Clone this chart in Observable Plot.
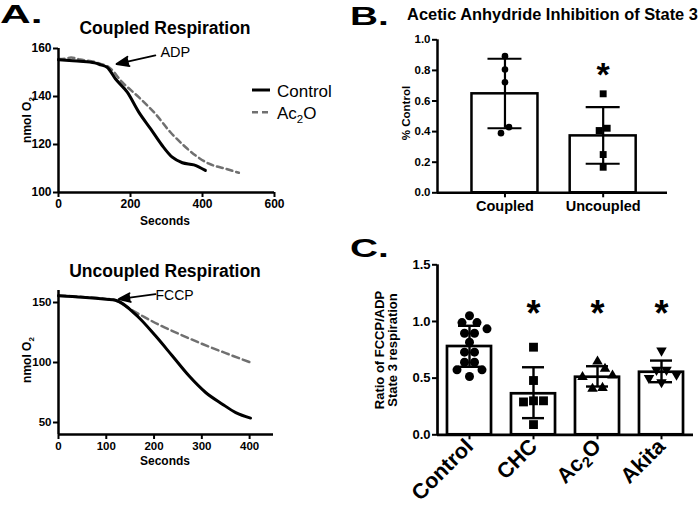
<!DOCTYPE html>
<html><head><meta charset="utf-8">
<script src="https://cdn.jsdelivr.net/npm/d3@7"></script>
<script src="https://cdn.jsdelivr.net/npm/@observablehq/plot@0.6"></script>
<style>
html,body{margin:0;padding:0;background:#fff;}
#fig{position:relative;width:700px;height:505px;overflow:hidden;background:#fff;}
#fig svg{position:absolute;left:0;top:0;}
</style></head><body><div id="fig"></div>
<script>
// ---------- DATA ----------
// Panel A (top): Coupled respiration, nmol O2 vs seconds
const coupledControlSec = [0, 30, 60, 100, 117, 135, 158, 191, 223, 256, 288, 316, 344, 376, 408];
const coupledControlO2  = [155.3, 155.0, 154.7, 154.0, 153.2, 152.2, 147.4, 141.8, 133.5, 126.5, 119.6, 114.7, 112.4, 111.5, 109.2];
const coupledAc2OSec = [0, 20, 35, 60, 100, 117, 140, 177, 223, 269, 311, 348, 381, 418, 464, 501];
const coupledAc2OO2  = [155.6, 155.8, 156.2, 155.4, 154.4, 153.6, 152.2, 146.0, 139.7, 132.8, 125.1, 119.6, 115.4, 112.0, 109.9, 108.2];
// Panel A (bottom): Uncoupled respiration
const uncoupledControlSec = [0, 50, 100, 119, 168, 203, 238, 273, 308, 343, 371, 402];
const uncoupledControlO2  = [155.6, 154.3, 152.6, 151.8, 137.5, 122.2, 105.6, 88.9, 75.0, 65.3, 58.3, 53.7];
const uncoupledAc2OSec = [0, 50, 100, 119, 150, 180, 210, 250, 300, 350, 402];
const uncoupledAc2OO2  = [155.9, 154.6, 153.2, 152.0, 144.5, 137.8, 131.5, 124.2, 115.6, 107.8, 100.0];
const eventsCoupled   = [{label: "ADP",  tailSec: 269, tailO2: 157.1, tipSec: 161, tipO2: 153.5, textSec: 283, textO2: 158.4}];
const eventsUncoupled = [{label: "FCCP", tailSec: 203, tailO2: 157.0, tipSec: 126, tipO2: 152.8, textSec: 203, textO2: 156.2}];

// Panel B: Acetic anhydride inhibition of state 3 (% control)
const bGroups = ["Coupled", "Uncoupled"];
const bMeans = [0.647, 0.372];
const bLow   = [0.422, 0.190];
const bHigh  = [0.876, 0.560];
const bCoupled   = [0.893, 0.806, 0.723, 0.429, 0.390];
const bUncoupled = [0.647, 0.422, 0.407, 0.250, 0.167];
const bSignificant = ["Uncoupled"];

// Panel C: Ratio of FCCP/ADP state 3 respiration
const cGroups = ["Control", "CHC", "Ac2O", "Akita"];
const cMeans = [0.779, 0.362, 0.508, 0.552];
const cLow   = [0.600, 0.147, 0.426, 0.464];
const cHigh  = [0.962, 0.596, 0.605, 0.655];
const cControl = [1.05, 0.99, 0.99, 0.935, 0.896, 0.896, 0.817, 0.729, 0.729, 0.64, 0.64, 0.573, 0.573, 0.514];
const cCHC     = [0.773, 0.479, 0.300, 0.290, 0.300, 0.090];
const cAc2O    = [0.646, 0.582, 0.523, 0.510, 0.414, 0.406];
const cAkita   = [0.743, 0.573, 0.573, 0.530, 0.500, 0.464];
const cSignificant = ["CHC", "Ac2O", "Akita"];

// ---------- LAYOUT ----------
const W = 700, H = 505;
const FONT = '"Liberation Sans", Arial, Helvetica, sans-serif';
const fig = document.getElementById("fig");
const PA1 = {x0: 58, x1: 274, y0: 48, y1: 192, xd: [0, 600], yd: [100, 160]};
const PA2 = {x0: 58, x1: 273, y0: 290, y1: 434, xd: [0, 450], yd: [40, 160]};
const PB  = {x0: 437, x1: 667, y0: 39.3, y1: 192.3, xd: [-0.687, 1.655], yd: [0, 1]};
const PC  = {x0: 437, x1: 693, y0: 264.3, y1: 434.3, xd: [-0.5, 3.5], yd: [0, 1.5]};

function frame(P) {
  return {width: W, height: H, marginLeft: P.x0, marginRight: W - P.x1, marginTop: P.y0, marginBottom: H - P.y1,
          x: {domain: P.xd}, y: {domain: P.yd}};
}
function style(fs) {
  return {background: "transparent", fontFamily: FONT, fontSize: fs + "px", fontWeight: "bold", color: "black", overflow: "visible"};
}
const yPxOf = P => v => P.y1 - (v - P.yd[0]) / (P.yd[1] - P.yd[0]) * (P.y1 - P.y0);
const pxPerX = P => (P.x1 - P.x0) / (P.xd[1] - P.xd[0]);

// deterministic scatter spreading (GraphPad-like)
function dodgeOffsets(values, yPx, d, rowTol) {
  const order = values.map((v, i) => i).sort((a, b) => values[b] - values[a]);
  const placed = [], out = new Array(values.length).fill(0);
  const ok = pts => pts.every(p => placed.every(q => Math.hypot(p.x - q.x, p.y - q.y) >= d - 1e-6));
  let i = 0;
  while (i < order.length) {
    const y0 = yPx(values[order[i]]);
    let j = i + 1;
    while (j < order.length && Math.abs(yPx(values[order[j]]) - y0) < rowTol) j++;
    const row = order.slice(i, j), k = row.length;
    let pts = null;
    if (k === 1) {
      for (let s = 0; !pts; s += 2.5) {
        for (const c of (s === 0 ? [0] : [s, -s])) {
          const p = [{x: c, y: y0}];
          if (ok(p)) { pts = p; break; }
        }
      }
    } else {
      for (let sp = d; !pts; sp += 2.5) {
        const cand = row.map((idx, m) => ({x: ((k - 1) / 2 - m) * sp, y: yPx(values[idx])}));
        if (ok(cand)) pts = cand;
      }
    }
    row.forEach((idx, m) => { out[idx] = pts[m].x; placed.push(pts[m]); });
    i = j;
  }
  return out;
}
function scatter(P, vals, g, d, tol) {
  const off = dodgeOffsets(vals, yPxOf(P), d, tol), k = pxPerX(P);
  return vals.map((v, i) => ({g, v, x: g + off[i] / k}));
}
const triangleDown = {
  draw(ctx, size) {
    const y = Math.sqrt(size / (3 * Math.sqrt(3)));
    ctx.moveTo(0, y * 2);
    ctx.lineTo(-Math.sqrt(3) * y, -y);
    ctx.lineTo(Math.sqrt(3) * y, -y);
    ctx.closePath();
  }
};
function subscriptAc2O(svg) {
  svg.querySelectorAll("text").forEach(t => {
    if (t.textContent === "Ac2O") {
      t.textContent = "Ac";
      const s = document.createElementNS("http://www.w3.org/2000/svg", "tspan");
      s.setAttribute("dy", "0.3em"); s.setAttribute("font-size", "0.68em"); s.textContent = "2";
      const o = document.createElementNS("http://www.w3.org/2000/svg", "tspan");
      o.setAttribute("dy", "-0.2em"); o.textContent = "O";
      t.appendChild(s); t.appendChild(o);
    }
  });
}

// ---------- PANEL A top ----------
fig.appendChild(Plot.plot({
  ...frame(PA1), style: style(12),
  marks: [
    Plot.line(coupledAc2OO2, {x: coupledAc2OSec, y: coupledAc2OO2, stroke: "#707070", strokeWidth: 2.5, strokeDasharray: "6,4", curve: "monotone-x"}),
    Plot.line(coupledControlO2, {x: coupledControlSec, y: coupledControlO2, stroke: "black", strokeWidth: 3, curve: "monotone-x"}),
    Plot.arrow(eventsCoupled, {x1: "tailSec", y1: "tailO2", x2: "tipSec", y2: "tipO2", stroke: "black", fill: "black", strokeWidth: 1.8, headLength: 11, headAngle: 42}),
    Plot.text(eventsCoupled, {x: "textSec", y: "textO2", text: "label", textAnchor: "start", fontSize: 14.5, fontWeight: "normal"}),
    Plot.ruleX([PA1.xd[0]], {stroke: "black", strokeWidth: 2.5}),
    Plot.ruleY([PA1.yd[0]], {stroke: "black", strokeWidth: 2.5}),
    Plot.axisX({ticks: [0, 200, 400, 600], tickSize: 5, tickPadding: 2, strokeWidth: 2, label: null}),
    Plot.axisY({ticks: [100, 120, 140, 160], tickSize: 5, tickPadding: 2, strokeWidth: 2, label: null})
  ]
}));

// ---------- PANEL A bottom ----------
fig.appendChild(Plot.plot({
  ...frame(PA2), style: style(11.5),
  marks: [
    Plot.line(uncoupledAc2OO2, {x: uncoupledAc2OSec, y: uncoupledAc2OO2, stroke: "#707070", strokeWidth: 2.5, strokeDasharray: "7,4", curve: "monotone-x"}),
    Plot.line(uncoupledControlO2, {x: uncoupledControlSec, y: uncoupledControlO2, stroke: "black", strokeWidth: 3, curve: "monotone-x"}),
    Plot.arrow(eventsUncoupled, {x1: "tailSec", y1: "tailO2", x2: "tipSec", y2: "tipO2", stroke: "black", fill: "black", strokeWidth: 1.8, headLength: 11, headAngle: 42}),
    Plot.text(eventsUncoupled, {x: "textSec", y: "textO2", text: "label", textAnchor: "start", fontSize: 14, fontWeight: "normal"}),
    Plot.ruleX([PA2.xd[0]], {stroke: "black", strokeWidth: 2.5}),
    Plot.ruleY([PA2.yd[0]], {stroke: "black", strokeWidth: 2.5}),
    Plot.axisX({ticks: [0, 100, 200, 300, 400], tickSize: 5, tickPadding: 2, strokeWidth: 2, label: null}),
    Plot.axisY({ticks: [50, 100, 150], tickSize: 5, tickPadding: 2, strokeWidth: 2, label: null})
  ]
}));

// ---------- PANEL B ----------
{
  const bars = bGroups.map((name, g) => ({g, name, mean: bMeans[g], lo: bLow[g], hi: bHigh[g]}));
  const hw = 0.336, cap = 0.173;
  const pts0 = scatter(PB, bCoupled, 0, 8, 7);
  const pts1 = scatter(PB, bUncoupled, 1, 8, 7);
  fig.appendChild(Plot.plot({
    ...frame(PB), style: style(11.5),
    marks: [
      Plot.rectY(bars, {x1: d => d.g - hw, x2: d => d.g + hw, y: "mean", fill: "white", stroke: "black", strokeWidth: 2.5}),
      Plot.ruleX(bars, {x: "g", y1: "lo", y2: "hi", stroke: "black", strokeWidth: 2.2}),
      Plot.ruleY(bars, {y: "hi", x1: d => d.g - cap, x2: d => d.g + cap, stroke: "black", strokeWidth: 2.2}),
      Plot.ruleY(bars, {y: "lo", x1: d => d.g - cap, x2: d => d.g + cap, stroke: "black", strokeWidth: 2.2}),
      Plot.dot(pts0, {x: "x", y: "v", r: 3.3, symbol: "circle", fill: "black", stroke: "none"}),
      Plot.dot(pts1, {x: "x", y: "v", r: 3.9, symbol: "square", fill: "black", stroke: "none"}),
      Plot.text(bSignificant, {x: d => bGroups.indexOf(d), y: () => 0.80, text: () => "*", fontSize: 34, dy: 5}),
      Plot.ruleX([PB.xd[0]], {stroke: "black", strokeWidth: 2.5}),
      Plot.ruleY([PB.yd[0]], {stroke: "black", strokeWidth: 2.5}),
      Plot.axisX({ticks: [0, 1], tickFormat: i => bGroups[i], tickSize: 5, tickPadding: 3, strokeWidth: 2, fontSize: 14.5, label: null}),
      Plot.axisY({ticks: [0, 0.2, 0.4, 0.6, 0.8, 1.0], tickFormat: d3.format(".1f"), tickSize: 5, tickPadding: 2, strokeWidth: 2, label: null})
    ]
  }));
}

// ---------- PANEL C ----------
{
  const bars = cGroups.map((name, g) => ({g, name, mean: cMeans[g], lo: cLow[g], hi: cHigh[g]}));
  const hw = 0.344, cap = 0.172;
  const sets = [cControl, cCHC, cAc2O, cAkita];
  const symbols = ["circle", "square", "triangle", triangleDown];
  const radii = [4.5, 5.0, 3.9, 3.9];
  const dotMarks = sets.map((vals, g) => Plot.dot(scatter(PC, vals, g, 10, 3),
    {x: "x", y: "v", r: radii[g], symbol: symbols[g], fill: "black", stroke: "none"}));
  const svg = Plot.plot({
    ...frame(PC), style: style(13),
    marks: [
      Plot.rectY(bars, {x1: d => d.g - hw, x2: d => d.g + hw, y: "mean", fill: "white", stroke: "black", strokeWidth: 2.7}),
      Plot.ruleX(bars, {x: "g", y1: "lo", y2: "hi", stroke: "black", strokeWidth: 2.4}),
      Plot.ruleY(bars, {y: "hi", x1: d => d.g - cap, x2: d => d.g + cap, stroke: "black", strokeWidth: 2.4}),
      Plot.ruleY(bars, {y: "lo", x1: d => d.g - cap, x2: d => d.g + cap, stroke: "black", strokeWidth: 2.4}),
      ...dotMarks,
      Plot.text(cSignificant, {x: d => cGroups.indexOf(d), y: () => 1.11, text: () => "*", fontSize: 36, dy: 5}),
      Plot.ruleX([PC.xd[0]], {stroke: "black", strokeWidth: 2.7}),
      Plot.ruleY([PC.yd[0]], {stroke: "black", strokeWidth: 2.7}),
      Plot.axisX({ticks: [0, 1, 2, 3], tickFormat: i => cGroups[i], tickSize: 5, tickPadding: 3, strokeWidth: 2, tickRotate: -45, fontSize: 21.5, label: null}),
      Plot.axisY({ticks: [0, 0.5, 1.0, 1.5], tickFormat: d3.format(".1f"), tickSize: 5, tickPadding: 2, strokeWidth: 2, label: null})
    ]
  });
  subscriptAc2O(svg);
  fig.appendChild(svg);
}

// ---------- TEXT OVERLAY (titles, panel letters, axis titles, legend) ----------
fig.insertAdjacentHTML("beforeend", `
<svg width="700" height="505" style="overflow:visible" font-family='${FONT}' fill="black">
  <g font-weight="bold" font-size="25">
    <text transform="translate(0,23) scale(1.7,1)">A.</text>
    <text transform="translate(350,25) scale(1.55,1)">B.</text>
    <text transform="translate(350,257) scale(1.55,1)">C.</text>
  </g>
  <g font-weight="bold" text-anchor="middle">
    <text x="165" y="34.3" font-size="17.5">Coupled Respiration</text>
    <text x="165" y="276.7" font-size="17.5">Uncoupled Respiration</text>
    <text x="552.5" y="20" font-size="16.4">Acetic Anhydride Inhibition of State 3</text>
    <text x="165" y="224.5" font-size="12">Seconds</text>
    <text x="165" y="465" font-size="12">Seconds</text>
    <text transform="translate(30.5,120) rotate(-90)" font-size="12">nmol O<tspan dy="3" font-size="8">2</tspan></text>
    <text transform="translate(30.5,360) rotate(-90)" font-size="12">nmol O<tspan dy="3" font-size="8">2</tspan></text>
    <text transform="translate(410,113) rotate(-90)" font-size="11.5">% Control</text>
    <text transform="translate(384,350) rotate(-90)" font-size="13">Ratio of FCCP/ADP</text>
    <text transform="translate(397,350) rotate(-90)" font-size="13">State 3 respiration</text>
  </g>
  <g font-size="17">
    <line x1="252" x2="270" y1="90" y2="90" stroke="black" stroke-width="3"/>
    <text x="277" y="96.5">Control</text>
    <line x1="252" x2="270" y1="112.3" y2="112.3" stroke="#707070" stroke-width="2.5" stroke-dasharray="6,4"/>
    <text x="277" y="118.5">Ac<tspan dy="4" font-size="11.5">2</tspan><tspan dy="-4">O</tspan></text>
  </g>
</svg>`);
</script></body></html>
